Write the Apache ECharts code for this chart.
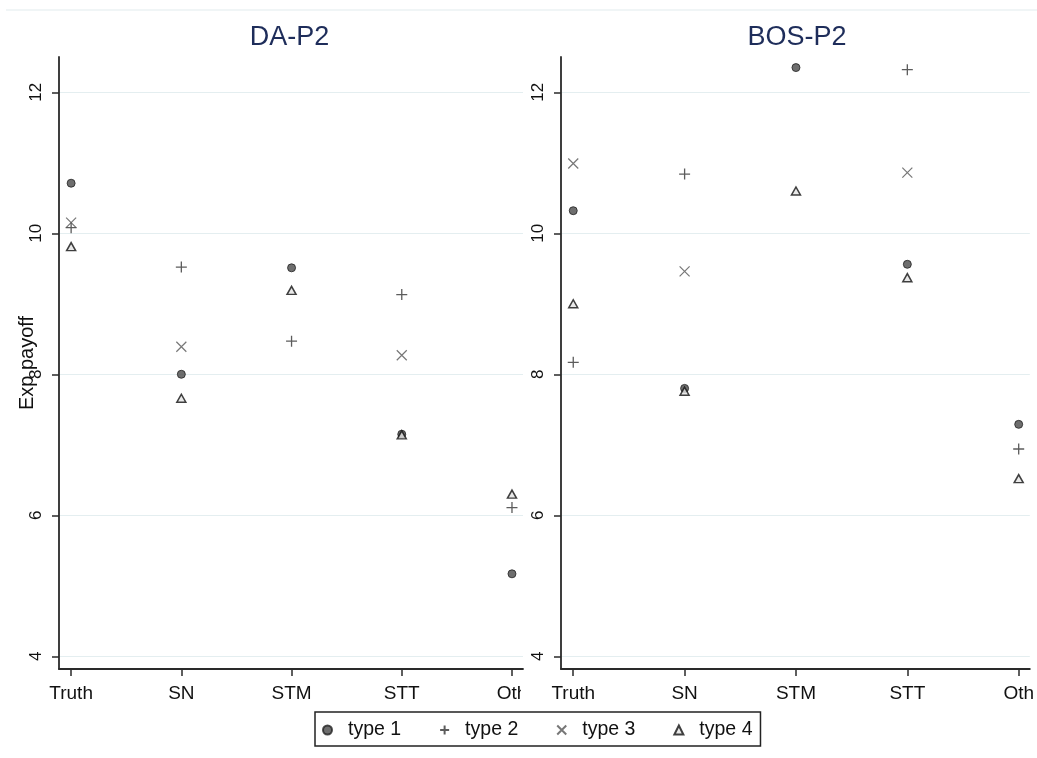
<!DOCTYPE html>
<html><head><meta charset="utf-8">
<script src="https://cdn.jsdelivr.net/npm/echarts@6/dist/echarts.min.js"></script>
<style>html,body{margin:0;padding:0;background:#fff}#c{width:1037px;height:758px}</style>
</head><body><div id="c"></div>
<script>
// ---- data ----
const categories = ['Truth', 'SN', 'STM', 'STT', 'Oth'];
const panelTitles = ['DA-P2', 'BOS-P2'];
const yTicks = [4, 6, 8, 10, 12];
const typeNames = ['type 1', 'type 2', 'type 3', 'type 4'];

const daType1 = [10.71, 8.00, 9.51, 7.15, 5.17];
const daType2 = [10.08, 9.52, 8.47, 9.13, 6.11];
const daType3 = [10.15, 8.39, null, 8.27, null];
const daType4 = [9.81, 7.66, 9.19, 7.14, 6.30];

const bosType1 = [10.32, 7.80, 12.35, 9.56, 7.29];
const bosType2 = [8.17, 10.84, null, 12.32, 6.94];
const bosType3 = [10.99, 9.46, null, 10.86, null];
const bosType4 = [9.00, 7.76, 10.60, 9.37, 6.52];

// ---- styling ----
const FONT = "'Liberation Sans', Arial, sans-serif";
const catTicks = categories.map((c, i) => i + 1);
const PLUS = 'path://M0,5L10,5M5,0L5,10';
const CROSS = 'path://M0,0L10,10M0,10L10,0';

const markerStyles = [
  { symbol: 'circle', symbolSize: 8, itemStyle: { color: '#4a4a4a', borderColor: '#222', borderWidth: 1 } },
  { symbol: PLUS, symbolSize: 11, itemStyle: { color: 'transparent', borderColor: '#333', borderWidth: 1.3 } },
  { symbol: CROSS, symbolSize: 10, itemStyle: { color: 'transparent', borderColor: '#555', borderWidth: 1.2 } },
  { symbol: 'triangle', symbolSize: [9, 8], itemStyle: { color: '#e4e4e4', borderColor: '#111', borderWidth: 1.5 } }
];

const panels = [
  [daType1, daType2, daType3, daType4],
  [bosType1, bosType2, bosType3, bosType4]
];

function toPoints(arr) {
  const out = [];
  arr.forEach((v, i) => { if (v !== null) out.push([i + 1, v]); });
  return out;
}

const series = [];
panels.forEach((panel, p) => {
  panel.forEach((arr, t) => {
    series.push(Object.assign({
      type: 'scatter',
      name: typeNames[t],
      xAxisIndex: p,
      yAxisIndex: p,
      data: toPoints(arr),
      emphasis: { disabled: true },
      z: 3 + (t === 3 ? 1 : 0)
    }, markerStyles[t]));
  });
});

const axisLineStyle = { color: '#2a2a2a', width: 1.8 };

const option = {
  animation: false,
  backgroundColor: '#ffffff',
  textStyle: { fontFamily: FONT },
  title: panelTitles.map((t, i) => ({
    text: t,
    left: [289.5, 797][i],
    top: 24,
    padding: 0,
    textAlign: 'center',
    textStyle: { fontSize: 27, fontWeight: 'normal', color: '#1e2d5a', fontFamily: FONT }
  })),
  grid: [
    { left: 59, right: 1037 - 523, top: 57, bottom: 758 - 669, containLabel: false },
    { left: 561, right: 6, top: 57, bottom: 758 - 669, containLabel: false }
  ],
  xAxis: [0, 1].map(i => ({
    gridIndex: i,
    type: 'value',
    min: 0.89,
    max: 5.1,
    axisLine: { show: true, onZero: false, lineStyle: axisLineStyle },
    axisTick: { show: true, customValues: catTicks, length: 7, lineStyle: { color: '#2a2a2a', width: 1.5 } },
    axisLabel: {
      customValues: catTicks,
      formatter: v => categories[Math.round(v) - 1],
      fontSize: 19, color: '#111', margin: 15, fontFamily: FONT
    },
    splitLine: { show: false }
  })),
  yAxis: [0, 1].map(i => ({
    gridIndex: i,
    type: 'value',
    min: 3.82,
    max: 12.5,
    axisLine: { show: true, onZero: false, lineStyle: axisLineStyle },
    axisTick: { show: true, customValues: yTicks, length: 7, lineStyle: { color: '#2a2a2a', width: 1.5 } },
    axisLabel: { customValues: yTicks, rotate: 90, fontSize: 17, color: '#111', margin: 14, fontFamily: FONT },
    splitLine: { show: true, lineStyle: { color: '#e4eef0', width: 1.2 } },
    name: i === 0 ? 'Exp payoff' : '',
    nameLocation: 'middle',
    nameMoveOverlap: false,
    nameGap: 22,
    nameTextStyle: { fontSize: 20, color: '#111', fontFamily: FONT }
  })),
  legend: {
    left: 315,
    top: 712,
    orient: 'horizontal',
    data: typeNames,
    itemWidth: 9,
    itemHeight: 9,
    itemGap: 38,
    padding: [8, 8, 6, 7],
    borderColor: '#222',
    borderWidth: 1.5,
    selectedMode: false,
    textStyle: { fontSize: 19.5, color: '#111', padding: [0, 0, 0, 11], fontFamily: FONT }
  },
  graphic: [
    { type: 'line', shape: { x1: 6, y1: 10, x2: 1037, y2: 10 }, style: { stroke: '#e2ebee', lineWidth: 1.2 }, silent: true },
    { type: 'rect', shape: { x: 521, y: 680, width: 13, height: 28 }, style: { fill: '#ffffff' }, z: 100, silent: true }
  ],
  series: series
};

const chart = echarts.init(document.getElementById('c'), null, { renderer: 'canvas' });
chart.setOption(option);
</script>
</body></html>
